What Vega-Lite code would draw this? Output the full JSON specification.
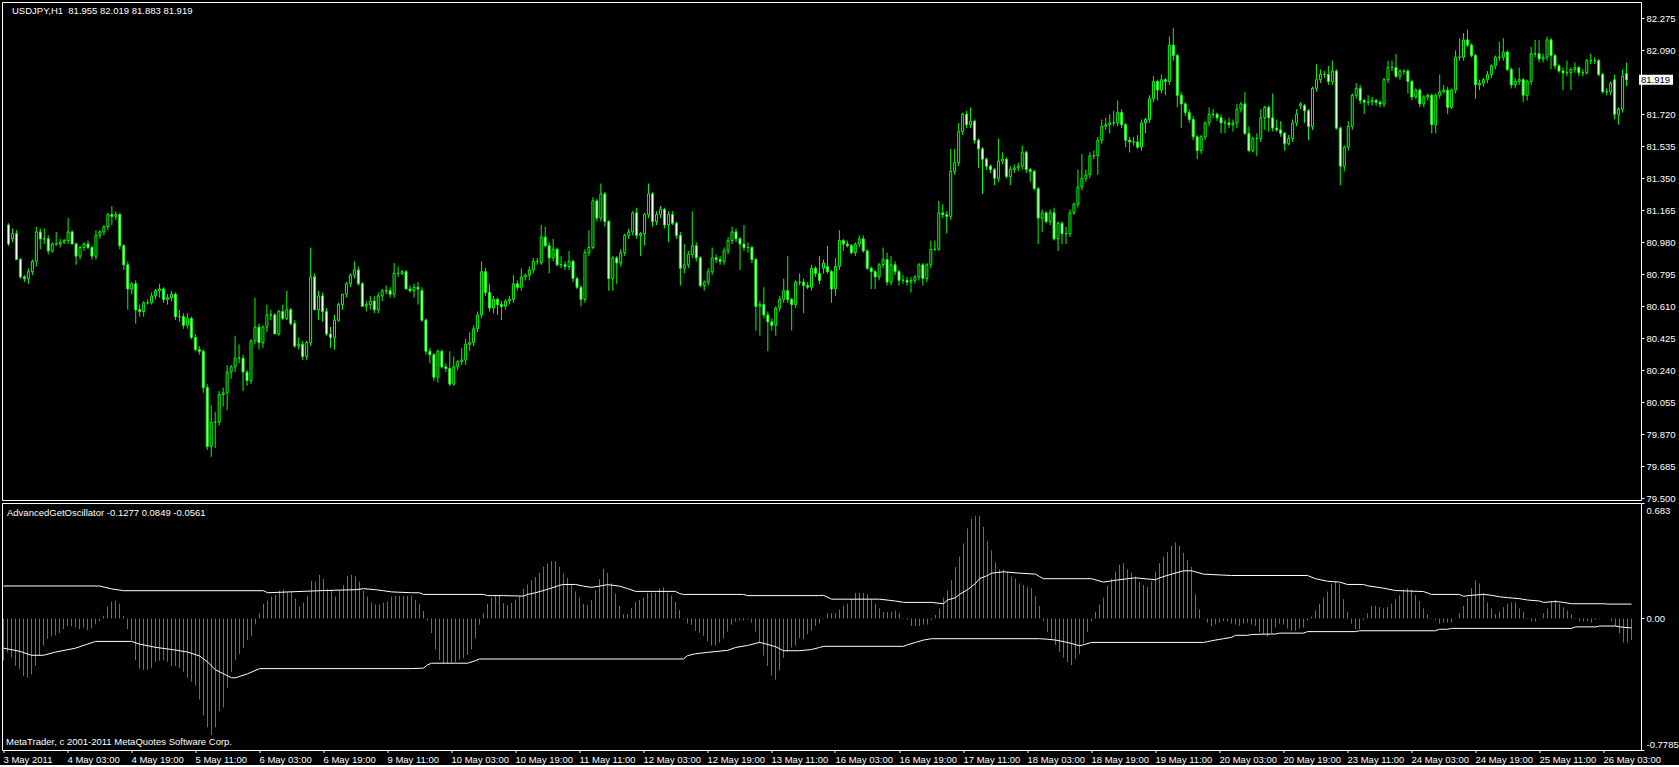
{
"$schema":"https://vega.github.io/schema/vega-lite/v6.json",
"background":"black",
"padding":{"left":1,"top":1,"right":0,"bottom":0},
"spacing":3,
"bounds":"flush",
"config":{"view":{"stroke":"white","strokeWidth":1,"fill":"black"},"font":"Liberation Sans","axis":{"domain":false,"grid":false,"labelColor":"white","tickColor":"white","labelFont":"Liberation Sans","labelFontSize":9.5,"tickSize":3,"labelPadding":2,"labelFlush":false,"labelOverlap":false,"labelBound":false}},
"datasets":{
"bars":[
{"i":0,"o":81.08,"h":81.09,"l":80.96,"c":80.97,"v":-0.25},
{"i":1,"o":81.0,"h":81.06,"l":80.98,"c":81.03,"v":-0.2},
{"i":2,"o":81.03,"h":81.05,"l":80.88,"c":80.88,"v":-0.23},
{"i":3,"o":80.88,"h":80.89,"l":80.77,"c":80.78,"v":-0.28},
{"i":4,"o":80.78,"h":80.79,"l":80.75,"c":80.77,"v":-0.3},
{"i":5,"o":80.77,"h":80.83,"l":80.74,"c":80.81,"v":-0.34},
{"i":6,"o":80.81,"h":80.88,"l":80.79,"c":80.87,"v":-0.35},
{"i":7,"o":80.87,"h":81.07,"l":80.84,"c":81.04,"v":-0.33},
{"i":8,"o":81.04,"h":81.06,"l":80.94,"c":81.0,"v":-0.28},
{"i":9,"o":81.0,"h":81.06,"l":80.97,"c":81.0,"v":-0.22},
{"i":10,"o":81.0,"h":81.02,"l":80.91,"c":80.93,"v":-0.16},
{"i":11,"o":80.93,"h":80.98,"l":80.92,"c":80.97,"v":-0.12},
{"i":12,"o":80.97,"h":81.04,"l":80.96,"c":80.97,"v":-0.105},
{"i":13,"o":80.97,"h":81.0,"l":80.95,"c":80.98,"v":-0.1},
{"i":14,"o":80.98,"h":81.0,"l":80.97,"c":80.99,"v":-0.087},
{"i":15,"o":80.99,"h":81.12,"l":80.97,"c":81.04,"v":-0.063},
{"i":16,"o":81.04,"h":81.05,"l":80.97,"c":80.97,"v":-0.047},
{"i":17,"o":80.97,"h":80.98,"l":80.85,"c":80.9,"v":-0.047},
{"i":18,"o":80.9,"h":80.96,"l":80.88,"c":80.95,"v":-0.054},
{"i":19,"o":80.95,"h":80.98,"l":80.93,"c":80.97,"v":-0.063},
{"i":20,"o":80.97,"h":80.99,"l":80.94,"c":80.95,"v":-0.054},
{"i":21,"o":80.95,"h":80.96,"l":80.88,"c":80.9,"v":-0.07},
{"i":22,"o":80.9,"h":81.05,"l":80.88,"c":81.02,"v":-0.059},
{"i":23,"o":81.02,"h":81.05,"l":81.0,"c":81.04,"v":-0.035},
{"i":24,"o":81.04,"h":81.08,"l":81.02,"c":81.07,"v":-0.016},
{"i":25,"o":81.07,"h":81.15,"l":81.05,"c":81.14,"v":0.016},
{"i":26,"o":81.14,"h":81.19,"l":81.08,"c":81.13,"v":0.07},
{"i":27,"o":81.13,"h":81.16,"l":81.11,"c":81.14,"v":0.1},
{"i":28,"o":81.14,"h":81.15,"l":80.94,"c":80.96,"v":0.105},
{"i":29,"o":80.96,"h":80.97,"l":80.82,"c":80.85,"v":0.087},
{"i":30,"o":80.85,"h":80.87,"l":80.59,"c":80.71,"v":0.016},
{"i":31,"o":80.71,"h":80.75,"l":80.68,"c":80.74,"v":-0.063},
{"i":32,"o":80.74,"h":80.76,"l":80.51,"c":80.59,"v":-0.13},
{"i":33,"o":80.59,"h":80.62,"l":80.55,"c":80.58,"v":-0.246},
{"i":34,"o":80.58,"h":80.64,"l":80.55,"c":80.63,"v":-0.297},
{"i":35,"o":80.63,"h":80.65,"l":80.62,"c":80.63,"v":-0.304},
{"i":36,"o":80.63,"h":80.69,"l":80.62,"c":80.67,"v":-0.304},
{"i":37,"o":80.67,"h":80.71,"l":80.65,"c":80.7,"v":-0.293},
{"i":38,"o":80.7,"h":80.74,"l":80.66,"c":80.71,"v":-0.257},
{"i":39,"o":80.71,"h":80.72,"l":80.63,"c":80.65,"v":-0.25},
{"i":40,"o":80.65,"h":80.68,"l":80.62,"c":80.66,"v":-0.246},
{"i":41,"o":80.66,"h":80.7,"l":80.64,"c":80.68,"v":-0.257},
{"i":42,"o":80.68,"h":80.69,"l":80.53,"c":80.55,"v":-0.281},
{"i":43,"o":80.55,"h":80.59,"l":80.52,"c":80.55,"v":-0.281},
{"i":44,"o":80.55,"h":80.57,"l":80.48,"c":80.5,"v":-0.293},
{"i":45,"o":80.5,"h":80.57,"l":80.48,"c":80.54,"v":-0.316},
{"i":46,"o":80.54,"h":80.55,"l":80.42,"c":80.43,"v":-0.351},
{"i":47,"o":80.43,"h":80.45,"l":80.35,"c":80.36,"v":-0.374},
{"i":48,"o":80.36,"h":80.38,"l":80.33,"c":80.35,"v":-0.398},
{"i":49,"o":80.35,"h":80.36,"l":80.11,"c":80.14,"v":-0.48},
{"i":50,"o":80.14,"h":80.16,"l":79.78,"c":79.8,"v":-0.573},
{"i":51,"o":79.8,"h":80.04,"l":79.74,"c":79.94,"v":-0.644},
{"i":52,"o":79.94,"h":80.0,"l":79.79,"c":79.94,"v":-0.69},
{"i":53,"o":79.94,"h":80.12,"l":79.92,"c":80.1,"v":-0.644},
{"i":54,"o":80.1,"h":80.14,"l":80.03,"c":80.11,"v":-0.55},
{"i":55,"o":80.11,"h":80.27,"l":80.01,"c":80.23,"v":-0.527},
{"i":56,"o":80.23,"h":80.27,"l":80.19,"c":80.26,"v":-0.41},
{"i":57,"o":80.26,"h":80.44,"l":80.23,"c":80.31,"v":-0.316},
{"i":58,"o":80.31,"h":80.39,"l":80.28,"c":80.31,"v":-0.246},
{"i":59,"o":80.31,"h":80.33,"l":80.12,"c":80.23,"v":-0.211},
{"i":60,"o":80.23,"h":80.24,"l":80.15,"c":80.18,"v":-0.176},
{"i":61,"o":80.18,"h":80.42,"l":80.16,"c":80.41,"v":-0.129},
{"i":62,"o":80.41,"h":80.66,"l":80.39,"c":80.49,"v":-0.105},
{"i":63,"o":80.49,"h":80.51,"l":80.36,"c":80.4,"v":-0.035},
{"i":64,"o":80.4,"h":80.5,"l":80.37,"c":80.49,"v":0.03},
{"i":65,"o":80.49,"h":80.62,"l":80.46,"c":80.56,"v":0.087},
{"i":66,"o":80.56,"h":80.59,"l":80.53,"c":80.56,"v":0.105},
{"i":67,"o":80.56,"h":80.57,"l":80.45,"c":80.45,"v":0.129},
{"i":68,"o":80.45,"h":80.59,"l":80.44,"c":80.58,"v":0.14},
{"i":69,"o":80.58,"h":80.62,"l":80.53,"c":80.54,"v":0.164},
{"i":70,"o":80.54,"h":80.7,"l":80.53,"c":80.59,"v":0.171},
{"i":71,"o":80.59,"h":80.6,"l":80.5,"c":80.51,"v":0.157},
{"i":72,"o":80.51,"h":80.53,"l":80.37,"c":80.38,"v":0.157},
{"i":73,"o":80.38,"h":80.43,"l":80.36,"c":80.39,"v":0.117},
{"i":74,"o":80.39,"h":80.41,"l":80.3,"c":80.32,"v":0.07},
{"i":75,"o":80.32,"h":80.41,"l":80.3,"c":80.4,"v":0.094},
{"i":76,"o":80.4,"h":80.95,"l":80.38,"c":80.78,"v":0.133},
{"i":77,"o":80.78,"h":80.8,"l":80.59,"c":80.59,"v":0.222},
{"i":78,"o":80.59,"h":80.7,"l":80.53,"c":80.67,"v":0.218},
{"i":79,"o":80.67,"h":80.69,"l":80.52,"c":80.58,"v":0.257},
{"i":80,"o":80.58,"h":80.6,"l":80.44,"c":80.45,"v":0.234},
{"i":81,"o":80.45,"h":80.49,"l":80.37,"c":80.43,"v":0.176},
{"i":82,"o":80.43,"h":80.56,"l":80.36,"c":80.53,"v":0.164},
{"i":83,"o":80.53,"h":80.63,"l":80.52,"c":80.62,"v":0.129},
{"i":84,"o":80.62,"h":80.68,"l":80.59,"c":80.68,"v":0.164},
{"i":85,"o":80.68,"h":80.75,"l":80.66,"c":80.74,"v":0.199},
{"i":86,"o":80.74,"h":80.8,"l":80.72,"c":80.79,"v":0.25},
{"i":87,"o":80.79,"h":80.87,"l":80.77,"c":80.82,"v":0.257},
{"i":88,"o":80.82,"h":80.84,"l":80.73,"c":80.74,"v":0.25},
{"i":89,"o":80.74,"h":80.75,"l":80.61,"c":80.61,"v":0.218},
{"i":90,"o":80.61,"h":80.64,"l":80.58,"c":80.62,"v":0.164},
{"i":91,"o":80.62,"h":80.67,"l":80.59,"c":80.64,"v":0.129},
{"i":92,"o":80.64,"h":80.67,"l":80.57,"c":80.59,"v":0.094},
{"i":93,"o":80.59,"h":80.69,"l":80.57,"c":80.67,"v":0.082},
{"i":94,"o":80.67,"h":80.71,"l":80.64,"c":80.7,"v":0.082},
{"i":95,"o":80.7,"h":80.73,"l":80.68,"c":80.7,"v":0.094},
{"i":96,"o":80.7,"h":80.72,"l":80.66,"c":80.68,"v":0.101},
{"i":97,"o":80.68,"h":80.86,"l":80.66,"c":80.8,"v":0.129},
{"i":98,"o":80.8,"h":80.84,"l":80.78,"c":80.8,"v":0.133},
{"i":99,"o":80.8,"h":80.82,"l":80.79,"c":80.81,"v":0.133},
{"i":100,"o":80.81,"h":80.82,"l":80.71,"c":80.71,"v":0.133},
{"i":101,"o":80.71,"h":80.73,"l":80.69,"c":80.7,"v":0.133},
{"i":102,"o":80.7,"h":80.74,"l":80.66,"c":80.72,"v":0.135},
{"i":103,"o":80.72,"h":80.75,"l":80.62,"c":80.71,"v":0.11},
{"i":104,"o":80.7,"h":80.72,"l":80.52,"c":80.53,"v":0.086},
{"i":105,"o":80.53,"h":80.54,"l":80.33,"c":80.35,"v":0.044},
{"i":106,"o":80.35,"h":80.37,"l":80.28,"c":80.33,"v":-0.012},
{"i":107,"o":80.33,"h":80.34,"l":80.18,"c":80.2,"v":-0.086},
{"i":108,"o":80.2,"h":80.36,"l":80.17,"c":80.35,"v":-0.184},
{"i":109,"o":80.35,"h":80.36,"l":80.25,"c":80.26,"v":-0.245},
{"i":110,"o":80.26,"h":80.28,"l":80.23,"c":80.25,"v":-0.265},
{"i":111,"o":80.25,"h":80.35,"l":80.15,"c":80.16,"v":-0.265},
{"i":112,"o":80.16,"h":80.32,"l":80.15,"c":80.26,"v":-0.265},
{"i":113,"o":80.26,"h":80.3,"l":80.24,"c":80.29,"v":-0.258},
{"i":114,"o":80.29,"h":80.37,"l":80.27,"c":80.3,"v":-0.245},
{"i":115,"o":80.3,"h":80.42,"l":80.27,"c":80.39,"v":-0.233},
{"i":116,"o":80.39,"h":80.46,"l":80.35,"c":80.4,"v":-0.216},
{"i":117,"o":80.4,"h":80.5,"l":80.38,"c":80.48,"v":-0.184},
{"i":118,"o":80.48,"h":80.58,"l":80.46,"c":80.56,"v":-0.118},
{"i":119,"o":80.56,"h":80.87,"l":80.54,"c":80.81,"v":-0.037},
{"i":120,"o":80.81,"h":80.83,"l":80.67,"c":80.69,"v":0.03},
{"i":121,"o":80.69,"h":80.74,"l":80.58,"c":80.6,"v":0.086},
{"i":122,"o":80.6,"h":80.67,"l":80.57,"c":80.65,"v":0.123},
{"i":123,"o":80.65,"h":80.66,"l":80.56,"c":80.62,"v":0.135},
{"i":124,"o":80.62,"h":80.64,"l":80.53,"c":80.61,"v":0.135},
{"i":125,"o":80.61,"h":80.65,"l":80.59,"c":80.64,"v":0.09},
{"i":126,"o":80.64,"h":80.67,"l":80.62,"c":80.65,"v":0.08},
{"i":127,"o":80.65,"h":80.79,"l":80.63,"c":80.74,"v":0.093},
{"i":128,"o":80.74,"h":80.76,"l":80.7,"c":80.72,"v":0.11},
{"i":129,"o":80.72,"h":80.83,"l":80.7,"c":80.78,"v":0.128},
{"i":130,"o":80.78,"h":80.8,"l":80.76,"c":80.79,"v":0.177},
{"i":131,"o":80.79,"h":80.84,"l":80.76,"c":80.82,"v":0.2},
{"i":132,"o":80.82,"h":80.89,"l":80.8,"c":80.87,"v":0.226},
{"i":133,"o":80.87,"h":80.89,"l":80.85,"c":80.87,"v":0.245},
{"i":134,"o":80.86,"h":81.08,"l":80.85,"c":81.01,"v":0.27},
{"i":135,"o":81.01,"h":81.07,"l":80.95,"c":80.96,"v":0.307},
{"i":136,"o":80.96,"h":80.98,"l":80.8,"c":80.89,"v":0.324},
{"i":137,"o":80.89,"h":81.0,"l":80.87,"c":80.94,"v":0.339},
{"i":138,"o":80.94,"h":80.95,"l":80.84,"c":80.85,"v":0.339},
{"i":139,"o":80.85,"h":80.9,"l":80.83,"c":80.85,"v":0.307},
{"i":140,"o":80.85,"h":80.87,"l":80.82,"c":80.84,"v":0.265},
{"i":141,"o":80.84,"h":80.93,"l":80.82,"c":80.87,"v":0.24},
{"i":142,"o":80.87,"h":80.88,"l":80.75,"c":80.77,"v":0.2},
{"i":143,"o":80.77,"h":80.78,"l":80.71,"c":80.72,"v":0.16},
{"i":144,"o":80.72,"h":80.73,"l":80.61,"c":80.65,"v":0.123},
{"i":145,"o":80.65,"h":80.94,"l":80.63,"c":80.92,"v":0.086},
{"i":146,"o":80.92,"h":81.05,"l":80.9,"c":80.95,"v":0.08},
{"i":147,"o":80.95,"h":81.24,"l":80.94,"c":81.22,"v":0.11},
{"i":148,"o":81.22,"h":81.23,"l":81.1,"c":81.12,"v":0.167},
{"i":149,"o":81.12,"h":81.32,"l":81.1,"c":81.26,"v":0.233},
{"i":150,"o":81.26,"h":81.27,"l":81.07,"c":81.1,"v":0.294},
{"i":151,"o":81.1,"h":81.11,"l":80.7,"c":80.77,"v":0.27},
{"i":152,"o":80.77,"h":80.9,"l":80.7,"c":80.89,"v":0.208},
{"i":153,"o":80.89,"h":80.9,"l":80.74,"c":80.86,"v":0.147},
{"i":154,"o":80.86,"h":80.94,"l":80.84,"c":80.92,"v":0.074},
{"i":155,"o":80.92,"h":81.03,"l":80.9,"c":81.02,"v":0.025},
{"i":156,"o":81.02,"h":81.06,"l":81.0,"c":81.04,"v":0.025},
{"i":157,"o":81.04,"h":81.16,"l":81.02,"c":81.15,"v":0.061},
{"i":158,"o":81.15,"h":81.18,"l":81.0,"c":81.02,"v":0.098},
{"i":159,"o":81.02,"h":81.04,"l":80.9,"c":81.03,"v":0.11},
{"i":160,"o":81.03,"h":81.15,"l":80.96,"c":81.14,"v":0.123},
{"i":161,"o":81.14,"h":81.32,"l":81.12,"c":81.26,"v":0.152},
{"i":162,"o":81.26,"h":81.27,"l":81.07,"c":81.1,"v":0.152},
{"i":163,"o":81.1,"h":81.16,"l":81.08,"c":81.14,"v":0.152},
{"i":164,"o":81.14,"h":81.19,"l":81.12,"c":81.17,"v":0.177},
{"i":165,"o":81.17,"h":81.18,"l":81.06,"c":81.08,"v":0.184},
{"i":166,"o":81.08,"h":81.16,"l":80.98,"c":81.14,"v":0.152},
{"i":167,"o":81.14,"h":81.16,"l":81.08,"c":81.09,"v":0.135},
{"i":168,"o":81.09,"h":81.1,"l":81.0,"c":81.02,"v":0.098},
{"i":169,"o":81.02,"h":81.04,"l":80.73,"c":80.83,"v":0.049},
{"i":170,"o":80.83,"h":80.97,"l":80.8,"c":80.85,"v":-0.005},
{"i":171,"o":80.85,"h":80.93,"l":80.83,"c":80.91,"v":-0.03},
{"i":172,"o":80.91,"h":81.16,"l":80.89,"c":80.96,"v":-0.037},
{"i":173,"o":80.96,"h":80.98,"l":80.87,"c":80.89,"v":-0.074},
{"i":174,"o":80.89,"h":80.9,"l":80.72,"c":80.73,"v":-0.086},
{"i":175,"o":80.73,"h":80.76,"l":80.7,"c":80.75,"v":-0.103},
{"i":176,"o":80.75,"h":80.83,"l":80.73,"c":80.81,"v":-0.135},
{"i":177,"o":80.81,"h":80.95,"l":80.79,"c":80.89,"v":-0.16},
{"i":178,"o":80.89,"h":80.91,"l":80.86,"c":80.88,"v":-0.16},
{"i":179,"o":80.88,"h":80.9,"l":80.85,"c":80.87,"v":-0.142},
{"i":180,"o":80.87,"h":80.95,"l":80.85,"c":80.93,"v":-0.118},
{"i":181,"o":80.93,"h":81.01,"l":80.91,"c":80.99,"v":-0.078},
{"i":182,"o":80.99,"h":81.07,"l":80.97,"c":81.04,"v":-0.037},
{"i":183,"o":81.04,"h":81.06,"l":80.98,"c":81.0,"v":-0.02},
{"i":184,"o":81.0,"h":81.01,"l":80.82,"c":80.97,"v":-0.012},
{"i":185,"o":80.97,"h":81.08,"l":80.93,"c":80.95,"v":-0.012},
{"i":186,"o":80.95,"h":80.98,"l":80.92,"c":80.95,"v":-0.005},
{"i":187,"o":80.95,"h":80.96,"l":80.86,"c":80.88,"v":-0.025},
{"i":188,"o":80.88,"h":80.89,"l":80.47,"c":80.61,"v":-0.078},
{"i":189,"o":80.61,"h":80.64,"l":80.44,"c":80.62,"v":-0.147},
{"i":190,"o":80.62,"h":80.72,"l":80.54,"c":80.56,"v":-0.22},
{"i":191,"o":80.56,"h":80.58,"l":80.35,"c":80.52,"v":-0.282},
{"i":192,"o":80.52,"h":80.54,"l":80.47,"c":80.5,"v":-0.339},
{"i":193,"o":80.5,"h":80.61,"l":80.44,"c":80.6,"v":-0.363},
{"i":194,"o":80.6,"h":80.67,"l":80.58,"c":80.65,"v":-0.307},
{"i":195,"o":80.65,"h":80.77,"l":80.63,"c":80.7,"v":-0.233},
{"i":196,"o":80.7,"h":80.9,"l":80.63,"c":80.65,"v":-0.196},
{"i":197,"o":80.65,"h":80.66,"l":80.47,"c":80.62,"v":-0.172},
{"i":198,"o":80.62,"h":80.76,"l":80.6,"c":80.75,"v":-0.16},
{"i":199,"o":80.75,"h":80.8,"l":80.73,"c":80.75,"v":-0.118},
{"i":200,"o":80.75,"h":80.77,"l":80.57,"c":80.73,"v":-0.123},
{"i":201,"o":80.73,"h":80.75,"l":80.71,"c":80.72,"v":-0.093},
{"i":202,"o":80.72,"h":80.85,"l":80.7,"c":80.83,"v":-0.074},
{"i":203,"o":80.83,"h":80.84,"l":80.78,"c":80.8,"v":-0.044},
{"i":204,"o":80.8,"h":80.9,"l":80.74,"c":80.76,"v":-0.03},
{"i":205,"o":80.83,"h":80.88,"l":80.8,"c":80.86,"v":0.003},
{"i":206,"o":80.84,"h":80.96,"l":80.8,"c":80.81,"v":0.031},
{"i":207,"o":80.81,"h":80.82,"l":80.63,"c":80.71,"v":0.031},
{"i":208,"o":80.71,"h":80.89,"l":80.67,"c":80.84,"v":0.031},
{"i":209,"o":80.84,"h":81.05,"l":80.82,"c":80.99,"v":0.053},
{"i":210,"o":80.99,"h":81.0,"l":80.93,"c":80.97,"v":0.075},
{"i":211,"o":80.97,"h":80.99,"l":80.95,"c":80.96,"v":0.087},
{"i":212,"o":80.96,"h":80.97,"l":80.91,"c":80.92,"v":0.114},
{"i":213,"o":80.92,"h":80.98,"l":80.9,"c":80.97,"v":0.151},
{"i":214,"o":80.97,"h":81.02,"l":80.95,"c":81.0,"v":0.151},
{"i":215,"o":81.0,"h":81.02,"l":80.92,"c":80.93,"v":0.151},
{"i":216,"o":80.93,"h":80.94,"l":80.82,"c":80.83,"v":0.142},
{"i":217,"o":80.83,"h":80.84,"l":80.71,"c":80.81,"v":0.114},
{"i":218,"o":80.81,"h":80.82,"l":80.71,"c":80.78,"v":0.087},
{"i":219,"o":80.78,"h":80.86,"l":80.76,"c":80.85,"v":0.059},
{"i":220,"o":80.85,"h":80.95,"l":80.83,"c":80.88,"v":0.039},
{"i":221,"o":80.88,"h":80.92,"l":80.73,"c":80.75,"v":0.039},
{"i":222,"o":80.75,"h":80.9,"l":80.73,"c":80.85,"v":0.039},
{"i":223,"o":80.85,"h":80.87,"l":80.79,"c":80.81,"v":0.047},
{"i":224,"o":80.81,"h":80.82,"l":80.73,"c":80.76,"v":0.031},
{"i":225,"o":80.76,"h":80.79,"l":80.74,"c":80.76,"v":0.003},
{"i":226,"o":80.76,"h":80.78,"l":80.73,"c":80.75,"v":-0.008},
{"i":227,"o":80.75,"h":80.78,"l":80.69,"c":80.76,"v":-0.045},
{"i":228,"o":80.76,"h":80.79,"l":80.74,"c":80.78,"v":-0.045},
{"i":229,"o":80.78,"h":80.86,"l":80.76,"c":80.85,"v":-0.045},
{"i":230,"o":80.85,"h":80.86,"l":80.73,"c":80.77,"v":-0.036},
{"i":231,"o":80.77,"h":80.86,"l":80.75,"c":80.85,"v":-0.036},
{"i":232,"o":80.85,"h":80.99,"l":80.83,"c":80.94,"v":-0.008},
{"i":233,"o":80.94,"h":80.99,"l":80.93,"c":80.94,"v":0.02},
{"i":234,"o":80.94,"h":81.22,"l":80.93,"c":81.15,"v":0.059},
{"i":235,"o":81.15,"h":81.2,"l":81.12,"c":81.14,"v":0.123},
{"i":236,"o":81.14,"h":81.16,"l":81.03,"c":81.13,"v":0.165},
{"i":237,"o":81.13,"h":81.52,"l":81.11,"c":81.39,"v":0.226},
{"i":238,"o":81.39,"h":81.52,"l":81.37,"c":81.44,"v":0.304},
{"i":239,"o":81.44,"h":81.67,"l":81.42,"c":81.62,"v":0.366},
{"i":240,"o":81.62,"h":81.73,"l":81.6,"c":81.72,"v":0.444},
{"i":241,"o":81.72,"h":81.74,"l":81.64,"c":81.66,"v":0.533},
{"i":242,"o":81.66,"h":81.76,"l":81.64,"c":81.68,"v":0.589},
{"i":243,"o":81.68,"h":81.69,"l":81.55,"c":81.57,"v":0.606},
{"i":244,"o":81.57,"h":81.58,"l":81.41,"c":81.52,"v":0.606},
{"i":245,"o":81.52,"h":81.53,"l":81.26,"c":81.46,"v":0.542},
{"i":246,"o":81.46,"h":81.47,"l":81.4,"c":81.42,"v":0.458},
{"i":247,"o":81.42,"h":81.43,"l":81.38,"c":81.4,"v":0.402},
{"i":248,"o":81.4,"h":81.41,"l":81.31,"c":81.35,"v":0.332},
{"i":249,"o":81.35,"h":81.58,"l":81.33,"c":81.45,"v":0.29},
{"i":250,"o":81.45,"h":81.5,"l":81.43,"c":81.46,"v":0.29},
{"i":251,"o":81.46,"h":81.47,"l":81.35,"c":81.36,"v":0.276},
{"i":252,"o":81.36,"h":81.42,"l":81.31,"c":81.4,"v":0.248},
{"i":253,"o":81.4,"h":81.43,"l":81.38,"c":81.41,"v":0.235},
{"i":254,"o":81.41,"h":81.44,"l":81.39,"c":81.42,"v":0.207},
{"i":255,"o":81.42,"h":81.54,"l":81.4,"c":81.5,"v":0.198},
{"i":256,"o":81.5,"h":81.51,"l":81.38,"c":81.4,"v":0.187},
{"i":257,"o":81.4,"h":81.41,"l":81.33,"c":81.39,"v":0.179},
{"i":258,"o":81.39,"h":81.4,"l":81.28,"c":81.29,"v":0.131},
{"i":259,"o":81.29,"h":81.3,"l":80.97,"c":81.12,"v":0.075},
{"i":260,"o":81.12,"h":81.17,"l":81.04,"c":81.15,"v":-0.017},
{"i":261,"o":81.15,"h":81.16,"l":81.09,"c":81.1,"v":-0.081},
{"i":262,"o":81.1,"h":81.17,"l":81.08,"c":81.15,"v":-0.12},
{"i":263,"o":81.15,"h":81.18,"l":80.99,"c":81.0,"v":-0.156},
{"i":264,"o":81.0,"h":81.1,"l":80.93,"c":81.09,"v":-0.198},
{"i":265,"o":81.09,"h":81.1,"l":80.97,"c":81.03,"v":-0.232},
{"i":266,"o":81.03,"h":81.07,"l":80.97,"c":81.03,"v":-0.26},
{"i":267,"o":81.03,"h":81.17,"l":81.01,"c":81.15,"v":-0.276},
{"i":268,"o":81.15,"h":81.21,"l":81.14,"c":81.2,"v":-0.24},
{"i":269,"o":81.2,"h":81.4,"l":81.18,"c":81.3,"v":-0.212},
{"i":270,"o":81.3,"h":81.49,"l":81.28,"c":81.35,"v":-0.148},
{"i":271,"o":81.35,"h":81.4,"l":81.33,"c":81.37,"v":-0.081},
{"i":272,"o":81.37,"h":81.5,"l":81.35,"c":81.48,"v":-0.017},
{"i":273,"o":81.48,"h":81.51,"l":81.46,"c":81.48,"v":0.039},
{"i":274,"o":81.48,"h":81.59,"l":81.37,"c":81.57,"v":0.081},
{"i":275,"o":81.57,"h":81.69,"l":81.55,"c":81.65,"v":0.123},
{"i":276,"o":81.65,"h":81.7,"l":81.63,"c":81.66,"v":0.193},
{"i":277,"o":81.66,"h":81.72,"l":81.61,"c":81.67,"v":0.235},
{"i":278,"o":81.67,"h":81.74,"l":81.65,"c":81.67,"v":0.276},
{"i":279,"o":81.67,"h":81.8,"l":81.65,"c":81.73,"v":0.318},
{"i":280,"o":81.73,"h":81.75,"l":81.64,"c":81.66,"v":0.327},
{"i":281,"o":81.66,"h":81.67,"l":81.53,"c":81.57,"v":0.29},
{"i":282,"o":81.57,"h":81.59,"l":81.5,"c":81.56,"v":0.271},
{"i":283,"o":81.56,"h":81.59,"l":81.54,"c":81.56,"v":0.248},
{"i":284,"o":81.56,"h":81.6,"l":81.52,"c":81.53,"v":0.215},
{"i":285,"o":81.53,"h":81.69,"l":81.51,"c":81.67,"v":0.198},
{"i":286,"o":81.67,"h":81.7,"l":81.61,"c":81.69,"v":0.187},
{"i":287,"o":81.69,"h":81.83,"l":81.67,"c":81.81,"v":0.22},
{"i":288,"o":81.81,"h":81.94,"l":81.79,"c":81.91,"v":0.276},
{"i":289,"o":81.91,"h":81.92,"l":81.8,"c":81.86,"v":0.327},
{"i":290,"o":81.86,"h":81.95,"l":81.84,"c":81.92,"v":0.366},
{"i":291,"o":81.92,"h":81.93,"l":81.83,"c":81.91,"v":0.394},
{"i":292,"o":81.91,"h":82.17,"l":81.89,"c":82.12,"v":0.43},
{"i":293,"o":82.12,"h":82.22,"l":82.03,"c":82.06,"v":0.45},
{"i":294,"o":82.06,"h":82.07,"l":81.76,"c":81.83,"v":0.43},
{"i":295,"o":81.83,"h":81.85,"l":81.64,"c":81.78,"v":0.388},
{"i":296,"o":81.78,"h":81.79,"l":81.71,"c":81.73,"v":0.346},
{"i":297,"o":81.73,"h":81.75,"l":81.67,"c":81.69,"v":0.304},
{"i":298,"o":81.69,"h":81.71,"l":81.57,"c":81.59,"v":0.142},
{"i":299,"o":81.59,"h":81.6,"l":81.46,"c":81.51,"v":0.053},
{"i":300,"o":81.51,"h":81.6,"l":81.49,"c":81.59,"v":0.003},
{"i":301,"o":81.59,"h":81.68,"l":81.57,"c":81.67,"v":-0.025},
{"i":302,"o":81.67,"h":81.76,"l":81.65,"c":81.72,"v":-0.045},
{"i":303,"o":81.72,"h":81.75,"l":81.7,"c":81.72,"v":-0.036},
{"i":304,"o":81.72,"h":81.73,"l":81.68,"c":81.7,"v":-0.025},
{"i":305,"o":81.7,"h":81.72,"l":81.61,"c":81.67,"v":-0.017},
{"i":306,"o":81.67,"h":81.69,"l":81.61,"c":81.67,"v":-0.017},
{"i":307,"o":81.67,"h":81.7,"l":81.64,"c":81.66,"v":-0.03},
{"i":308,"o":81.66,"h":81.69,"l":81.62,"c":81.67,"v":-0.036},
{"i":309,"o":81.67,"h":81.78,"l":81.64,"c":81.75,"v":-0.045},
{"i":310,"o":81.75,"h":81.79,"l":81.73,"c":81.78,"v":-0.031},
{"i":311,"o":81.78,"h":81.85,"l":81.6,"c":81.61,"v":-0.025},
{"i":312,"o":81.61,"h":81.65,"l":81.5,"c":81.51,"v":-0.036},
{"i":313,"o":81.51,"h":81.59,"l":81.5,"c":81.58,"v":-0.045},
{"i":314,"o":81.58,"h":81.61,"l":81.48,"c":81.58,"v":-0.081},
{"i":315,"o":81.58,"h":81.75,"l":81.56,"c":81.7,"v":-0.092},
{"i":316,"o":81.7,"h":81.77,"l":81.63,"c":81.76,"v":-0.109},
{"i":317,"o":81.76,"h":81.77,"l":81.62,"c":81.7,"v":-0.087},
{"i":318,"o":81.7,"h":81.84,"l":81.62,"c":81.64,"v":-0.053},
{"i":319,"o":81.64,"h":81.69,"l":81.62,"c":81.63,"v":-0.031},
{"i":320,"o":81.63,"h":81.68,"l":81.59,"c":81.61,"v":-0.036},
{"i":321,"o":81.61,"h":81.62,"l":81.51,"c":81.55,"v":-0.059},
{"i":322,"o":81.55,"h":81.6,"l":81.54,"c":81.58,"v":-0.073},
{"i":323,"o":81.58,"h":81.69,"l":81.56,"c":81.67,"v":-0.073},
{"i":324,"o":81.67,"h":81.75,"l":81.65,"c":81.72,"v":-0.059},
{"i":325,"o":81.77,"h":81.79,"l":81.75,"c":81.78,"v":-0.053},
{"i":326,"o":81.77,"h":81.78,"l":81.67,"c":81.74,"v":-0.011},
{"i":327,"o":81.74,"h":81.75,"l":81.57,"c":81.65,"v":0.011},
{"i":328,"o":81.65,"h":81.88,"l":81.63,"c":81.87,"v":0.047},
{"i":329,"o":81.87,"h":82.01,"l":81.85,"c":81.92,"v":0.087},
{"i":330,"o":81.92,"h":81.98,"l":81.9,"c":81.95,"v":0.123},
{"i":331,"o":81.95,"h":81.97,"l":81.93,"c":81.95,"v":0.159},
{"i":332,"o":81.95,"h":82.0,"l":81.89,"c":81.91,"v":0.207},
{"i":333,"o":81.91,"h":82.03,"l":81.89,"c":81.97,"v":0.22},
{"i":334,"o":81.97,"h":81.98,"l":81.63,"c":81.64,"v":0.207},
{"i":335,"o":81.64,"h":81.65,"l":81.31,"c":81.42,"v":0.114},
{"i":336,"o":81.42,"h":81.54,"l":81.39,"c":81.53,"v":0.039},
{"i":337,"o":81.53,"h":81.68,"l":81.51,"c":81.65,"v":-0.031},
{"i":338,"o":81.65,"h":81.84,"l":81.63,"c":81.83,"v":-0.064},
{"i":339,"o":81.83,"h":81.9,"l":81.81,"c":81.87,"v":-0.064},
{"i":340,"o":81.87,"h":81.89,"l":81.78,"c":81.8,"v":-0.008},
{"i":341,"o":81.8,"h":81.81,"l":81.72,"c":81.79,"v":0.031},
{"i":342,"o":81.79,"h":81.83,"l":81.77,"c":81.79,"v":0.075},
{"i":343,"o":81.79,"h":81.82,"l":81.77,"c":81.8,"v":0.075},
{"i":344,"o":81.8,"h":81.81,"l":81.77,"c":81.79,"v":0.067},
{"i":345,"o":81.79,"h":81.8,"l":81.76,"c":81.78,"v":0.059},
{"i":346,"o":81.78,"h":81.93,"l":81.76,"c":81.92,"v":0.067},
{"i":347,"o":81.92,"h":82.03,"l":81.9,"c":81.99,"v":0.087},
{"i":348,"o":81.99,"h":82.03,"l":81.97,"c":81.99,"v":0.114},
{"i":349,"o":81.99,"h":82.07,"l":81.93,"c":81.94,"v":0.137},
{"i":350,"o":81.94,"h":81.98,"l":81.92,"c":81.97,"v":0.17},
{"i":351,"o":81.97,"h":81.98,"l":81.95,"c":81.97,"v":0.179},
{"i":352,"o":81.97,"h":81.98,"l":81.84,"c":81.91,"v":0.17},
{"i":353,"o":81.91,"h":81.92,"l":81.8,"c":81.82,"v":0.137},
{"i":354,"o":81.82,"h":81.87,"l":81.81,"c":81.86,"v":0.103},
{"i":355,"o":81.86,"h":81.87,"l":81.76,"c":81.78,"v":0.059},
{"i":356,"o":81.78,"h":81.83,"l":81.76,"c":81.82,"v":0.025},
{"i":357,"o":81.82,"h":81.84,"l":81.8,"c":81.83,"v":0.003},
{"i":358,"o":81.83,"h":81.84,"l":81.61,"c":81.66,"v":-0.008},
{"i":359,"o":81.66,"h":81.84,"l":81.61,"c":81.83,"v":-0.031},
{"i":360,"o":81.83,"h":81.95,"l":81.81,"c":81.85,"v":-0.025},
{"i":361,"o":81.85,"h":81.89,"l":81.84,"c":81.86,"v":-0.025},
{"i":362,"o":81.86,"h":81.88,"l":81.72,"c":81.76,"v":-0.025},
{"i":363,"o":81.76,"h":81.87,"l":81.75,"c":81.86,"v":0.003},
{"i":364,"o":81.86,"h":82.09,"l":81.84,"c":82.05,"v":0.031},
{"i":365,"o":82.05,"h":82.16,"l":82.03,"c":82.05,"v":0.075},
{"i":366,"o":82.05,"h":82.19,"l":82.03,"c":82.15,"v":0.123},
{"i":367,"o":82.15,"h":82.21,"l":82.11,"c":82.12,"v":0.179},
{"i":368,"o":82.12,"h":82.13,"l":82.05,"c":82.06,"v":0.226},
{"i":369,"o":82.06,"h":82.07,"l":81.81,"c":81.89,"v":0.207},
{"i":370,"o":81.89,"h":81.92,"l":81.86,"c":81.9,"v":0.151},
{"i":371,"o":81.9,"h":81.93,"l":81.88,"c":81.92,"v":0.095},
{"i":372,"o":81.92,"h":81.97,"l":81.9,"c":81.95,"v":0.059},
{"i":373,"o":81.95,"h":82.01,"l":81.93,"c":82.0,"v":0.025},
{"i":374,"o":82.0,"h":82.06,"l":81.98,"c":82.05,"v":0.039},
{"i":375,"o":82.05,"h":82.14,"l":82.03,"c":82.05,"v":0.067},
{"i":376,"o":82.05,"h":82.16,"l":82.03,"c":82.08,"v":0.087},
{"i":377,"o":82.08,"h":82.09,"l":81.97,"c":81.98,"v":0.095},
{"i":378,"o":81.98,"h":81.99,"l":81.87,"c":81.89,"v":0.095},
{"i":379,"o":81.89,"h":81.93,"l":81.87,"c":81.91,"v":0.059},
{"i":380,"o":81.91,"h":81.99,"l":81.89,"c":81.92,"v":0.039},
{"i":381,"o":81.92,"h":81.93,"l":81.79,"c":81.83,"v":0.003},
{"i":382,"o":81.83,"h":81.92,"l":81.8,"c":81.91,"v":-0.017},
{"i":383,"o":81.91,"h":82.11,"l":81.89,"c":82.07,"v":-0.017},
{"i":384,"o":82.07,"h":82.15,"l":82.05,"c":82.07,"v":0.003},
{"i":385,"o":82.07,"h":82.15,"l":82.02,"c":82.04,"v":0.031},
{"i":386,"o":82.04,"h":82.07,"l":82.02,"c":82.05,"v":0.059},
{"i":387,"o":82.05,"h":82.17,"l":82.03,"c":82.15,"v":0.103},
{"i":388,"o":82.15,"h":82.16,"l":81.98,"c":82.06,"v":0.109},
{"i":389,"o":82.06,"h":82.07,"l":81.98,"c":82.0,"v":0.087},
{"i":390,"o":82.0,"h":82.01,"l":81.96,"c":81.97,"v":0.067},
{"i":391,"o":81.97,"h":81.99,"l":81.86,"c":81.96,"v":0.047},
{"i":392,"o":81.96,"h":82.03,"l":81.94,"c":81.96,"v":0.025},
{"i":393,"o":81.96,"h":81.99,"l":81.86,"c":81.98,"v":0.003},
{"i":394,"o":81.98,"h":82.02,"l":81.96,"c":81.99,"v":-0.017},
{"i":395,"o":81.99,"h":82.0,"l":81.94,"c":81.96,"v":-0.017},
{"i":396,"o":81.96,"h":81.98,"l":81.94,"c":81.96,"v":-0.017},
{"i":397,"o":81.96,"h":82.04,"l":81.95,"c":82.03,"v":-0.025},
{"i":398,"o":82.03,"h":82.07,"l":82.01,"c":82.03,"v":-0.008},
{"i":399,"o":82.03,"h":82.05,"l":82.01,"c":82.03,"v":-0.003},
{"i":400,"o":82.03,"h":82.04,"l":81.94,"c":81.95,"v":0.0},
{"i":401,"o":81.95,"h":81.96,"l":81.84,"c":81.85,"v":0.0},
{"i":402,"o":81.85,"h":81.87,"l":81.83,"c":81.85,"v":-0.017},
{"i":403,"o":81.85,"h":81.91,"l":81.83,"c":81.9,"v":-0.045},
{"i":404,"o":81.92,"h":81.95,"l":81.69,"c":81.72,"v":-0.087},
{"i":405,"o":81.72,"h":81.76,"l":81.66,"c":81.75,"v":-0.142},
{"i":406,"o":81.75,"h":81.98,"l":81.73,"c":81.94,"v":-0.142},
{"i":407,"o":81.955,"h":82.019,"l":81.883,"c":81.919,"v":-0.1277}
],
"up":[{"i":0,"u":0.192},{"i":24,"u":0.192},{"i":27,"u":0.175},{"i":30,"u":0.164},{"i":65,"u":0.164},{"i":66,"u":0.152},{"i":79,"u":0.164},{"i":88,"u":0.17},{"i":90,"u":0.176},{"i":93,"u":0.17},{"i":95,"u":0.164},{"i":97,"u":0.157},{"i":102,"u":0.152},{"i":104,"u":0.152},{"i":105,"u":0.142},{"i":120,"u":0.142},{"i":121,"u":0.135},{"i":125,"u":0.135},{"i":130,"u":0.132},{"i":131,"u":0.142},{"i":133,"u":0.152},{"i":136,"u":0.172},{"i":139,"u":0.196},{"i":140,"u":0.201},{"i":143,"u":0.201},{"i":145,"u":0.191},{"i":147,"u":0.184},{"i":149,"u":0.191},{"i":151,"u":0.2},{"i":154,"u":0.191},{"i":156,"u":0.177},{"i":158,"u":0.16},{"i":168,"u":0.16},{"i":169,"u":0.147},{"i":170,"u":0.142},{"i":185,"u":0.142},{"i":186,"u":0.135},{"i":204,"u":0.135},{"i":205,"u":0.137},{"i":207,"u":0.114},{"i":219,"u":0.114},{"i":223,"u":0.103},{"i":225,"u":0.095},{"i":232,"u":0.095},{"i":235,"u":0.087},{"i":236,"u":0.109},{"i":238,"u":0.123},{"i":239,"u":0.142},{"i":241,"u":0.17},{"i":243,"u":0.207},{"i":244,"u":0.235},{"i":246,"u":0.254},{"i":247,"u":0.268},{"i":250,"u":0.276},{"i":254,"u":0.268},{"i":258,"u":0.262},{"i":259,"u":0.248},{"i":260,"u":0.235},{"i":272,"u":0.235},{"i":275,"u":0.215},{"i":278,"u":0.226},{"i":281,"u":0.235},{"i":283,"u":0.24},{"i":288,"u":0.229},{"i":289,"u":0.24},{"i":292,"u":0.262},{"i":295,"u":0.282},{"i":297,"u":0.282},{"i":300,"u":0.262},{"i":307,"u":0.254},{"i":326,"u":0.254},{"i":328,"u":0.235},{"i":331,"u":0.22},{"i":334,"u":0.215},{"i":336,"u":0.201},{"i":340,"u":0.201},{"i":341,"u":0.193},{"i":345,"u":0.179},{"i":348,"u":0.165},{"i":355,"u":0.159},{"i":357,"u":0.142},{"i":364,"u":0.142},{"i":365,"u":0.131},{"i":367,"u":0.137},{"i":370,"u":0.142},{"i":372,"u":0.137},{"i":374,"u":0.128},{"i":376,"u":0.123},{"i":379,"u":0.117},{"i":381,"u":0.109},{"i":384,"u":0.103},{"i":385,"u":0.095},{"i":388,"u":0.1},{"i":390,"u":0.095},{"i":392,"u":0.087},{"i":400,"u":0.087},{"i":401,"u":0.0849},{"i":407,"u":0.0849}],
"dn":[{"i":0,"d":-0.176},{"i":4,"d":-0.194},{"i":7,"d":-0.218},{"i":10,"d":-0.218},{"i":13,"d":-0.199},{"i":18,"d":-0.176},{"i":21,"d":-0.152},{"i":23,"d":-0.136},{"i":32,"d":-0.136},{"i":34,"d":-0.152},{"i":38,"d":-0.171},{"i":43,"d":-0.187},{"i":46,"d":-0.199},{"i":49,"d":-0.222},{"i":51,"d":-0.257},{"i":53,"d":-0.304},{"i":57,"d":-0.351},{"i":58,"d":-0.351},{"i":61,"d":-0.328},{"i":64,"d":-0.297},{"i":102,"d":-0.297},{"i":105,"d":-0.294},{"i":106,"d":-0.275},{"i":107,"d":-0.265},{"i":116,"d":-0.265},{"i":118,"d":-0.25},{"i":119,"d":-0.24},{"i":170,"d":-0.24},{"i":171,"d":-0.22},{"i":173,"d":-0.209},{"i":176,"d":-0.201},{"i":178,"d":-0.196},{"i":181,"d":-0.189},{"i":183,"d":-0.172},{"i":186,"d":-0.16},{"i":189,"d":-0.142},{"i":190,"d":-0.147},{"i":193,"d":-0.167},{"i":195,"d":-0.191},{"i":199,"d":-0.191},{"i":202,"d":-0.184},{"i":204,"d":-0.172},{"i":205,"d":-0.165},{"i":225,"d":-0.165},{"i":226,"d":-0.156},{"i":228,"d":-0.142},{"i":230,"d":-0.128},{"i":232,"d":-0.12},{"i":259,"d":-0.12},{"i":261,"d":-0.123},{"i":263,"d":-0.128},{"i":265,"d":-0.137},{"i":267,"d":-0.148},{"i":269,"d":-0.162},{"i":270,"d":-0.156},{"i":272,"d":-0.142},{"i":300,"d":-0.142},{"i":301,"d":-0.137},{"i":303,"d":-0.128},{"i":305,"d":-0.12},{"i":307,"d":-0.112},{"i":308,"d":-0.1},{"i":311,"d":-0.1},{"i":312,"d":-0.095},{"i":318,"d":-0.092},{"i":319,"d":-0.087},{"i":325,"d":-0.087},{"i":326,"d":-0.078},{"i":338,"d":-0.078},{"i":339,"d":-0.073},{"i":358,"d":-0.073},{"i":359,"d":-0.064},{"i":361,"d":-0.064},{"i":362,"d":-0.059},{"i":392,"d":-0.059},{"i":393,"d":-0.05},{"i":398,"d":-0.05},{"i":399,"d":-0.045},{"i":403,"d":-0.045},{"i":404,"d":-0.05},{"i":407,"d":-0.0561}],
"toplabel":[{"t":"USDJPY,H1\u00a0 81.955 82.019 81.883 81.919","x":-0.375,"y":82.3692}],
"osclabel":[{"t":"AdvancedGetOscillator -0.1277 0.0849 -0.0561","x":-0.375,"y":0.683}],
"copyright":[{"t":"MetaTrader, c 2001-2011 MetaQuotes Software Corp.","x":-0.375,"y":-0.7785}]
},
"vconcat":[
{
"width":1639,"height":498,
"layer":[
{"data":{"name":"bars"},"mark":{"type":"rule","color":"#00FF00","strokeWidth":1},
"encoding":{
"x":{"field":"i","type":"quantitative","scale":{"domain":[-0.375,409.375],"nice":false,"zero":false},"axis":null},
"y":{"field":"l","type":"quantitative","scale":{"domain":[79.4902,82.3692],"nice":false,"zero":false},
"axis":{"orient":"right","title":null,"tickCount":40,"values":[82.275,82.09,81.72,81.535,81.35,81.165,80.98,80.795,80.61,80.425,80.24,80.055,79.87,79.685,79.5],"format":".3f","labelBaseline":"middle","labelAlign":"left","labelOverlap":false,"labelFlush":false,"labelBound":false}},
"y2":{"field":"h"}}},
{"data":{"name":"bars"},"mark":{"type":"bar","width":2,"stroke":"#00FF00","strokeWidth":1},
"encoding":{
"x":{"field":"i","type":"quantitative","scale":{"domain":[-0.375,409.375],"nice":false,"zero":false}},
"y":{"field":"o","type":"quantitative","scale":{"domain":[79.4902,82.3692],"nice":false,"zero":false}},
"y2":{"field":"c"},
"fill":{"condition":{"test":"datum.c > datum.o","value":"black"},"value":"white"}}},
{"data":{"name":"bars"},"transform":[{"filter":"datum.i == 407"}],"mark":{"type":"rect","fill":"white","xOffset":12.5,"x2Offset":46.5,"yOffset":-5,"y2Offset":5},
"encoding":{
"x":{"field":"i","type":"quantitative","scale":{"domain":[-0.375,409.375],"nice":false,"zero":false}},
"x2":{"field":"i"},
"y":{"field":"c","type":"quantitative","scale":{"domain":[79.4902,82.3692],"nice":false,"zero":false}},
"y2":{"field":"c"}}},
{"data":{"name":"bars"},"transform":[{"filter":"datum.i == 407"}],"mark":{"type":"text","align":"left","baseline":"middle","dx":14.5,"color":"black","font":"Liberation Sans","fontSize":9.5},
"encoding":{
"x":{"field":"i","type":"quantitative","scale":{"domain":[-0.375,409.375],"nice":false,"zero":false}},
"y":{"field":"c","type":"quantitative","scale":{"domain":[79.4902,82.3692],"nice":false,"zero":false}},
"text":{"field":"c","type":"quantitative","format":".3f"}}},
{"data":{"name":"toplabel"},"mark":{"type":"text","align":"left","baseline":"alphabetic","dx":5,"dy":12,"color":"white","font":"Liberation Sans","fontSize":9.5},
"encoding":{
"x":{"field":"x","type":"quantitative","scale":{"domain":[-0.375,409.375],"nice":false,"zero":false}},
"y":{"field":"y","type":"quantitative","scale":{"domain":[79.4902,82.3692],"nice":false,"zero":false}},
"text":{"field":"t"}}}
]
},
{
"width":1639,"height":247,
"layer":[
{"data":{"name":"bars"},"mark":{"type":"rule","color":"#6A5ACD","strokeWidth":1},
"encoding":{
"x":{"field":"i","type":"quantitative","scale":{"domain":[-0.375,409.375],"nice":false,"zero":false},
"axis":{"orient":"bottom","title":null,"translate":0,"tickCount":60,"values":[0,16,32,48,64,80,96,112,128,144,160,176,192,208,224,240,256,272,288,304,320,336,352,368,384,400],"labelAlign":"left","labelBaseline":"top","labelOverlap":false,"labelFlush":false,"labelBound":false,
"labelExpr":"['3 May 2011','4 May 03:00','4 May 19:00','5 May 11:00','6 May 03:00','6 May 19:00','9 May 11:00','10 May 03:00','10 May 19:00','11 May 11:00','12 May 03:00','12 May 19:00','13 May 11:00','16 May 03:00','16 May 19:00','17 May 11:00','18 May 03:00','18 May 19:00','19 May 11:00','20 May 03:00','20 May 19:00','23 May 11:00','24 May 03:00','24 May 19:00','25 May 11:00','26 May 03:00'][round(datum.value/16)]"}},
"y":{"field":"v","type":"quantitative","scale":{"domain":[-0.7785,0.683],"nice":false,"zero":false},
"axis":{"orient":"right","title":null,"tickCount":10,"values":[0.683,0,-0.7785],"labelAlign":"left","labelBaseline":"middle","labelOverlap":false,"labelFlush":false,"labelBound":false,
"labelExpr":"datum.value == 0 ? '0.00' : toString(datum.value)",
"labelOffset":{"condition":[{"test":"datum.value > 0.5","value":7},{"test":"datum.value < -0.5","value":-6}],"value":0}}},
"y2":{"datum":0}}},
{"data":{"name":"up"},"mark":{"type":"line","color":"white","strokeWidth":1},
"encoding":{
"x":{"field":"i","type":"quantitative","scale":{"domain":[-0.375,409.375],"nice":false,"zero":false}},
"y":{"field":"u","type":"quantitative","scale":{"domain":[-0.7785,0.683],"nice":false,"zero":false}}}},
{"data":{"name":"dn"},"mark":{"type":"line","color":"white","strokeWidth":1},
"encoding":{
"x":{"field":"i","type":"quantitative","scale":{"domain":[-0.375,409.375],"nice":false,"zero":false}},
"y":{"field":"d","type":"quantitative","scale":{"domain":[-0.7785,0.683],"nice":false,"zero":false}}}},
{"data":{"name":"osclabel"},"mark":{"type":"text","align":"left","baseline":"alphabetic","dx":5,"dy":13,"color":"white","font":"Liberation Sans","fontSize":9.5},
"encoding":{
"x":{"field":"x","type":"quantitative","scale":{"domain":[-0.375,409.375],"nice":false,"zero":false}},
"y":{"field":"y","type":"quantitative","scale":{"domain":[-0.7785,0.683],"nice":false,"zero":false}},
"text":{"field":"t"}}},
{"data":{"name":"copyright"},"mark":{"type":"text","align":"left","baseline":"alphabetic","dx":4,"dy":-5,"color":"white","font":"Liberation Sans","fontSize":9.5},
"encoding":{
"x":{"field":"x","type":"quantitative","scale":{"domain":[-0.375,409.375],"nice":false,"zero":false}},
"y":{"field":"y","type":"quantitative","scale":{"domain":[-0.7785,0.683],"nice":false,"zero":false}},
"text":{"field":"t"}}}
]
}
]
}
